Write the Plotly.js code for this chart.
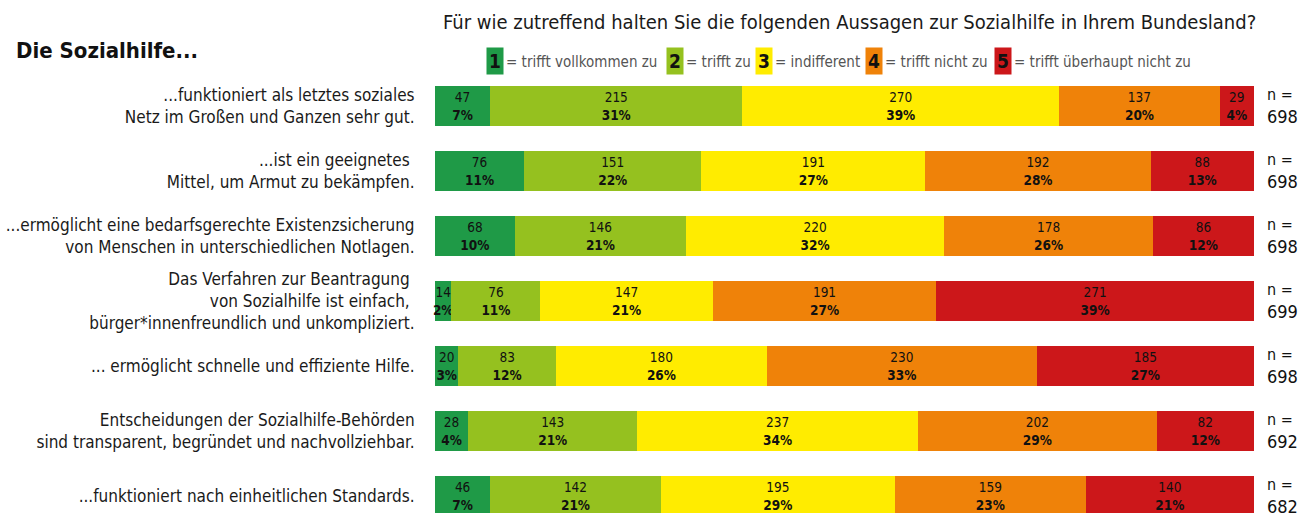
<!DOCTYPE html>
<html><head><meta charset="utf-8">
<script src="https://cdn.plot.ly/plotly-3.0.1.min.js"></script>
<style>html,body{margin:0;padding:0;background:#fff}</style>
</head><body><div id="chart" style="width:1304px;height:513px"></div>
<script>
const statements = [
  "...funktioniert als letztes soziales<br>Netz im Großen und Ganzen sehr gut.",
  "...ist ein geeignetes <br>Mittel, um Armut zu bekämpfen.",
  "...ermöglicht eine bedarfsgerechte Existenzsicherung<br>von Menschen in unterschiedlichen Notlagen.",
  "Das Verfahren zur Beantragung <br>von Sozialhilfe ist einfach, <br>bürger*innenfreundlich und unkompliziert.",
  "... ermöglicht schnelle und effiziente Hilfe.",
  "Entscheidungen der Sozialhilfe-Behörden<br>sind transparent, begründet und nachvollziehbar.",
  "...funktioniert nach einheitlichen Standards."
];
const nValues = [698, 698, 698, 699, 698, 692, 682];
const levelNames = ["trifft vollkommen zu", "trifft zu", "indifferent", "trifft nicht zu", "trifft überhaupt nicht zu"];
const levelColors = ["#1f9a47", "#95c11f", "#ffec00", "#ef8209", "#cc171a"];
const count1 = [47, 76, 68, 14, 20, 28, 46];
const count2 = [215, 151, 146, 76, 83, 143, 142];
const count3 = [270, 191, 220, 147, 180, 237, 195];
const count4 = [137, 192, 178, 191, 230, 202, 159];
const count5 = [29, 88, 86, 271, 185, 82, 140];
const pct1 = [7, 11, 10, 2, 3, 4, 7];
const pct2 = [31, 22, 21, 11, 12, 21, 21];
const pct3 = [39, 27, 32, 21, 26, 34, 29];
const pct4 = [20, 28, 26, 27, 33, 29, 23];
const pct5 = [4, 13, 12, 39, 27, 12, 21];

const counts = [count1, count2, count3, count4, count5];
const pcts = [pct1, pct2, pct3, pct4, pct5];
const FONT = "'DejaVu Sans Condensed', 'Liberation Sans Narrow', sans-serif";
const cats = statements.map((s, i) => "r" + i);

const traces = counts.map((c, k) => ({
  type: "bar", orientation: "h",
  y: cats, x: c,
  marker: {color: levelColors[k], line: {width: 0}},
  text: c.map((v, i) => v + "<br><b>" + pcts[k][i] + "%</b>"),
  textposition: "inside", insidetextanchor: "middle", constraintext: "none",
  textfont: {family: FONT, size: 13.5, color: "#111"},
  hoverinfo: "skip", showlegend: false, cliponaxis: false
}));

// layout geometry helpers (pixels -> paper)
const L = 435, R = 50, T = 80, B = 0, W = 1304, H = 513;
const pw = W - L - R, ph = H - T - B;
const px = x => (x - L) / pw;
const py = y => 1 - (y - T) / ph;

const annotations = [];
annotations.push({xref: "paper", yref: "paper", x: px(14), y: py(51), xanchor: "left", yanchor: "middle",
  text: "<b>Die Sozialhilfe...</b>", showarrow: false, font: {family: FONT, size: 22, color: "#111"}});
annotations.push({xref: "paper", yref: "paper", x: px(849), y: py(22), xanchor: "center", yanchor: "middle",
  text: "Für wie zutreffend halten Sie die folgenden Aussagen zur Sozialhilfe in Ihrem Bundesland?", showarrow: false,
  font: {family: FONT, size: 20, color: "#1a1a1a"}});
const legendBoxX = [495, 675, 764, 874, 1003];
levelNames.forEach((name, k) => {
  annotations.push({xref: "paper", yref: "paper", x: px(legendBoxX[k]), y: py(61), xanchor: "center", yanchor: "middle",
    text: "<b>" + (k + 1) + "</b>", showarrow: false, bgcolor: levelColors[k], borderpad: 2,
    font: {family: FONT, size: 19, color: "#111"}});
  annotations.push({xref: "paper", yref: "paper", x: px(legendBoxX[k] + 9), y: py(62), xanchor: "left", yanchor: "middle",
    text: "= " + name, showarrow: false, font: {family: FONT, size: 15, color: "#555"}});
});
nValues.forEach((n, i) => {
  annotations.push({xref: "paper", yref: "y", x: px(1265), y: cats[i], xanchor: "left", yanchor: "middle",
    text: "<span style='font-size:16px'>n =</span><br>" + n, showarrow: false, align: "left",
    font: {family: FONT, size: 18, color: "#111"}});
});

const layout = {
  width: W, height: H,
  margin: {l: L, r: R, t: T, b: B, pad: 0},
  paper_bgcolor: "#fff", plot_bgcolor: "#fff",
  barmode: "stack", barnorm: "percent", bargap: 0.385,
  xaxis: {range: [0, 100.02], visible: false, fixedrange: true},
  yaxis: {type: "category", categoryorder: "array", categoryarray: cats,
    range: [6.2615, -0.4], tickvals: cats, ticktext: statements,
    ticks: "outside", ticklen: 16, tickcolor: "rgba(0,0,0,0)", showline: false, showgrid: false, zeroline: false,
    tickfont: {family: FONT, size: 17, color: "#1a1a1a"}},
  annotations: annotations,
  font: {family: FONT}
};
Plotly.newPlot("chart", traces, layout, {displayModeBar: false, staticPlot: true});
</script></body></html>
